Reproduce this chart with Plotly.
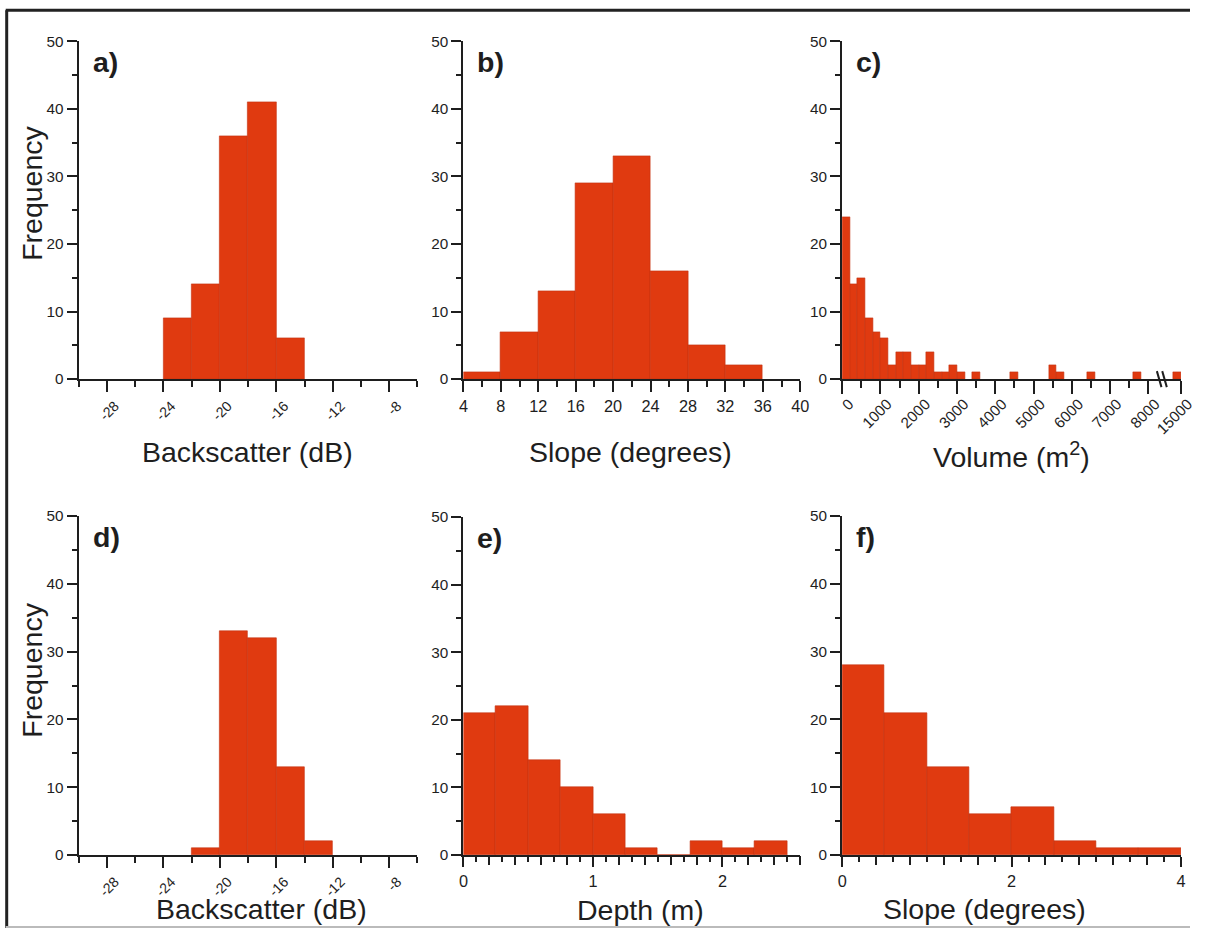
import plotly.graph_objects as go

W, H = 1205, 936

# The photograph maps page pixels to picture pixels as pic = S * page + O;
# layout positions below are given in picture pixels and converted back.
SX, OX = 0.984, 7.3
SY, OY = 0.982, 8.8
FS = 1 / 0.983  # font compensation

# ---------------- data ----------------
# a) Backscatter (dB), upper row
a_left = [-24, -22, -20, -18, -16]
a_counts = [9, 14, 36, 41, 6]
a_binw = 2

# b) Slope (degrees), upper row
b_left = [4, 8, 12, 16, 20, 24, 28, 32]
b_counts = [1, 7, 13, 29, 33, 16, 5, 2]
b_binw = 4

# c) Volume (m2), broken axis 8000 // 15000
c_left = [0, 200, 400, 600, 800, 1000, 1200, 1400, 1600, 1800, 2000, 2200,
          2400, 2600, 2800, 3000, 3400, 4400, 5400, 5600, 6400, 7600, 14800]
c_counts = [24, 14, 15, 9, 7, 6, 2, 4, 4, 2, 2, 4,
            1, 1, 2, 1, 1, 1, 2, 1, 1, 1, 1]
c_binw = 200

# d) Backscatter (dB), lower row
d_left = [-22, -20, -18, -16, -14]
d_counts = [1, 33, 32, 13, 2]
d_binw = 2

# e) Depth (m)
e_left = [0, 0.25, 0.5, 0.75, 1.0, 1.25, 1.5, 1.75, 2.0, 2.25]
e_counts = [21, 22, 14, 10, 6, 1, 0, 2, 1, 2]
e_binw = 0.25

# f) Slope (degrees), lower row
f_left = [0, 0.5, 1.0, 1.5, 2.0, 2.5, 3.0, 3.5]
f_counts = [28, 21, 13, 6, 7, 2, 1, 1]
f_binw = 0.5

# tick labels / tick positions
freq_ticks = [0, 10, 20, 30, 40, 50]
bs_ticks = [-28, -24, -20, -16, -12, -8]
bs_labels = ["-28", "-24", "-20", "-16", "-12", "-8"]
bs_minor = [-30, -26, -22, -18, -14, -10, -6]
slope_ticks = [4, 8, 12, 16, 20, 24, 28, 32, 36, 40]
vol_ticks = [0, 1000, 2000, 3000, 4000, 5000, 6000, 7000, 8000, 15000]
vol_labels = ["0", "1000", "2000", "3000", "4000", "5000", "6000", "7000", "8000", "15000"]
vol_minor = [500, 1500, 2500, 3500, 4500, 5500, 6500, 7500]
depth_ticks = [0, 1, 2]
depth_long = [0.2, 0.4, 0.6, 0.8, 1.2, 1.4, 1.6, 1.8, 2.2, 2.4, 2.6]
fslope_ticks = [0, 2, 4]
fslope_long = [0.4, 0.8, 1.2, 1.6, 2.4, 2.8, 3.2, 3.6]

# broken volume axis: values above 8000 are shifted left so 15000 sits just after 8000
BREAK_AT = 8000
BREAK_SHIFT = 6150


def vol_axis(v):
    return v if v <= BREAK_AT else v - BREAK_SHIFT


# ---------------- style ----------------
BAR = "#E03A10"
BAR_LINE = "#C23210"
FONT = "Liberation Sans, Arial, sans-serif"
INK = "#1e1e1e"


def fs(v):
    return round(v * FS, 1)


def px(x):
    return ((x - OX) / SX) / W


def py(y):
    return 1 - ((y - OY) / SY) / H


def xdom(l, r):
    return [px(l), px(r)]


def ydom(top, bottom):
    return [py(bottom), py(top)]


fig = go.Figure()

panels = [
    ("a)", a_left, a_counts, a_binw, None, (81, 420), (41, 379)),
    ("b)", b_left, b_counts, b_binw, None, (466, 803), (41, 379)),
    ("c)", c_left, c_counts, c_binw, vol_axis, (845, 1184), (41, 379)),
    ("d)", d_left, d_counts, d_binw, None, (81, 420), (516, 855)),
    ("e)", e_left, e_counts, e_binw, None, (466, 803), (517, 855)),
    ("f)", f_left, f_counts, f_binw, None, (845, 1184), (516, 855)),
]

annotations = []
for i, (letter, lefts, counts, bw, fmap, xp, yp) in enumerate(panels):
    k = i + 1
    sfx = "" if k == 1 else str(k)
    centers = [l + bw / 2 for l in lefts]
    if fmap is not None:
        centers = [fmap(c) for c in centers]
    fig.add_trace(go.Bar(
        x=centers, y=counts, width=[bw] * len(counts),
        marker=dict(color=BAR, line=dict(color=BAR_LINE, width=0.6)),
        xaxis="x" + sfx, yaxis="y" + sfx, showlegend=False,
    ))
    yax = dict(
        domain=ydom(*yp), anchor="x" + sfx, range=[0, 50],
        tickvals=freq_ticks, showline=True, linecolor=INK, linewidth=2,
        ticks="outside", ticklen=10, tickwidth=2, tickcolor=INK,
        minor=dict(dtick=5, tick0=0, ticks="outside", ticklen=5, tickwidth=2, tickcolor=INK),
        showgrid=False, zeroline=False,
        tickfont=dict(family=FONT, size=fs(15), color=INK), ticklabelstandoff=0,
    )
    xax = dict(
        domain=xdom(*xp), anchor="y" + sfx, showline=True, linecolor=INK, linewidth=2,
        ticks="outside", ticklen=11, tickwidth=2, tickcolor=INK,
        showgrid=False, zeroline=False, ticklabeloverflow="allow",
        tickfont=dict(family=FONT, size=fs(16), color=INK),
    )
    fig.layout["yaxis" + sfx] = yax
    fig.layout["xaxis" + sfx] = xax
    annotations.append(dict(
        text="<b>%s</b>" % letter, xref="paper", yref="paper",
        x=px(xp[0] + 12), y=py(yp[0] + 21), xanchor="left", yanchor="middle",
        showarrow=False, font=dict(family=FONT, size=fs(28), color=INK),
    ))

for sfx in ["", "4"]:
    fig.layout["xaxis" + sfx].update(
        range=[-30, -6], tickvals=bs_ticks, ticktext=bs_labels, tickangle=-45,
        tickfont=dict(size=fs(14)), ticklabelshift=8,
        minor=dict(tickvals=bs_minor, ticks="outside", ticklen=6, tickwidth=2, tickcolor=INK),
    )
fig.layout["xaxis2"].update(
    range=[4, 40], tickvals=slope_ticks,
    minor=dict(dtick=2, tick0=4, ticks="outside", ticklen=6, tickwidth=2, tickcolor=INK),
)
fig.layout["xaxis3"].update(
    range=[0, vol_axis(15000)], tickvals=[vol_axis(v) for v in vol_ticks], ticktext=vol_labels,
    tickangle=-45, tickfont=dict(size=fs(15)), ticklabelshift=7, ticklabelstandoff=-5,
    ticklen=13,
    minor=dict(tickvals=vol_minor, ticks="outside", ticklen=7, tickwidth=2, tickcolor=INK),
)
fig.layout["xaxis5"].update(
    range=[0, 2.6], tickvals=depth_ticks, ticklen=10,
    minor=dict(dtick=0.1, tick0=0, ticks="outside", ticklen=5, tickwidth=2, tickcolor=INK),
)
fig.layout["xaxis6"].update(
    range=[0, 4], tickvals=fslope_ticks, ticklen=10,
    minor=dict(dtick=0.2, tick0=0, ticks="outside", ticklen=5, tickwidth=2, tickcolor=INK),
)

# overlay axes that draw the longer unlabelled ticks of panels e and f
for n, base, rng, longs in ((7, 5, [0, 2.6], depth_long), (8, 6, [0, 4], fslope_long)):
    fig.add_trace(go.Bar(x=[], y=[], xaxis="x%d" % n, yaxis="y%d" % base, showlegend=False))
    fig.layout["xaxis%d" % n] = dict(
        overlaying="x%d" % base, anchor="y%d" % base, side="bottom", range=rng,
        tickvals=longs, ticks="outside", ticklen=9, tickwidth=2, tickcolor=INK,
        showticklabels=False, showline=False, showgrid=False, zeroline=False,
    )

titles = [
    ("Backscatter (dB)", 250, 452),
    ("Slope (degrees)", 633, 452),
    ("Volume (m<sup>2</sup>)", 1014, 455),
    ("Backscatter (dB)", 264, 909),
    ("Depth (m)", 643, 910),
    ("Slope (degrees)", 987, 909),
]
for t, cx, cy in titles:
    annotations.append(dict(
        text=t, xref="paper", yref="paper", x=px(cx), y=py(cy),
        xanchor="center", yanchor="middle", showarrow=False,
        font=dict(family=FONT, size=fs(28), color=INK),
    ))
for cy in (193, 670):
    annotations.append(dict(
        text="Frequency", xref="paper", yref="paper", x=px(34), y=py(cy),
        xanchor="center", yanchor="middle", textangle=-90, showarrow=False,
        font=dict(family=FONT, size=fs(28), color=INK),
    ))

shapes = []
for xb in (8280, 8420):
    shapes.append(dict(type="line", xref="x3", yref="paper",
                       x0=xb - 60, x1=xb + 60, y0=py(371), y1=py(387),
                       line=dict(color=INK, width=2)))
# frame (top and left dark, bottom light grey)
shapes.append(dict(type="line", xref="paper", yref="paper", x0=px(8), x1=1.0,
                   y0=py(10), y1=py(10), line=dict(color="#222222", width=3)))
shapes.append(dict(type="line", xref="paper", yref="paper", x0=px(9), x1=px(9),
                   y0=py(10), y1=0.0, line=dict(color="#222222", width=3)))
shapes.append(dict(type="line", xref="paper", yref="paper", x0=px(8), x1=1.0,
                   y0=0.001, y1=0.001, line=dict(color="#BBBBBB", width=2)))

fig.update_layout(
    width=W, height=H, margin=dict(l=0, r=0, t=0, b=0),
    paper_bgcolor="white", plot_bgcolor="white",
    bargap=0, annotations=annotations, shapes=shapes,
    font=dict(family=FONT, color=INK),
)

fig.write_html(
    "out.html",
    config={"displayModeBar": False},
    post_script="document.body.style.margin='0';document.body.style.overflow='hidden';",
)
